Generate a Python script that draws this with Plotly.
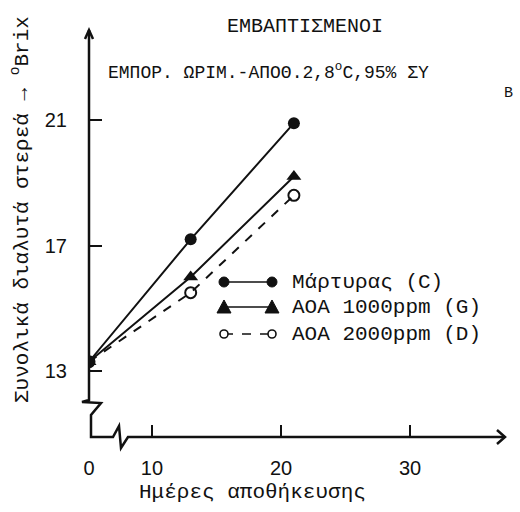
import plotly.graph_objects as go

# Storage days and total soluble solids (°Brix) per treatment
days = [0, 13, 21]
control_c = [13.3, 17.2, 20.9]
aoa_1000_g = [13.3, 16.0, 19.2]
aoa_2000_d = [13.3, 15.5, 18.6]

series_names = ["Μάρτυρας (C)", "ΑΟΑ 1000ppm (G)", "ΑΟΑ 2000ppm (D)"]
x_ticks = [10, 20, 30]
y_ticks = [13, 17, 21]

title_main = "ΕΜΒΑΠΤΙΣΜΕΝΟΙ"
title_sub = "ΕΜΠΟΡ. ΩΡΙΜ.-ΑΠΟΘ.2,8<sup>o</sup>C,95% ΣΥ"
title_sub_b = "Β"
x_title = "Ημέρες αποθήκευσης"
y_title = "Συνολικά διαλυτά στερεά → <sup>o</sup>Brix"

W, H = 520, 512
L, R, T, B = 89, 505, 30, 437          # plot area in pixels
X_RANGE = [5.12, 37.36]
Y_RANGE = [10.9, 23.87]

# Day 0 sits at the origin, left of the broken x axis
ORIGIN_X = X_RANGE[0]
def xpos(d):
    return ORIGIN_X if d == 0 else d
xs = [xpos(d) for d in days]

MONO = "Liberation Mono, Courier New, monospace"
SANS = "Liberation Sans, Arial, sans-serif"
INK = "#111111"


def fx(px):
    return (px - L) / (R - L)


def fy(py):
    return (B - py) / (B - T)


def path(points):
    return "M " + " L ".join(f"{fx(a):.5f},{fy(b):.5f}" for a, b in points)


fig = go.Figure()

fig.add_trace(go.Scatter(
    x=xs, y=aoa_2000_d, mode="lines+markers", name=series_names[2],
    line=dict(color=INK, width=2, dash="dash"),
    marker=dict(symbol="circle-open", size=11, color=INK, line=dict(width=2)),
))
fig.add_trace(go.Scatter(
    x=xs, y=aoa_1000_g, mode="lines+markers", name=series_names[1],
    line=dict(color=INK, width=2),
    marker=dict(symbol="triangle-up", size=13, color=INK),
))
fig.add_trace(go.Scatter(
    x=xs, y=control_c, mode="lines+markers", name=series_names[0],
    line=dict(color=INK, width=2),
    marker=dict(symbol="circle", size=12, color=INK),
))

shapes = []
# Axes with break marks and arrow heads
axis_pts = [(89, 30), (89, 400), (82, 402), (101, 403), (91, 415), (91, 437),
            (113, 437), (119, 426), (121, 448), (128, 437), (505, 437)]
shapes.append(dict(type="path", xref="paper", yref="paper", path=path(axis_pts),
                   line=dict(color=INK, width=2.5)))
shapes.append(dict(type="path", xref="paper", yref="paper",
                   path=path([(85, 39), (89, 30), (93, 39)]),
                   line=dict(color=INK, width=2.5)))
shapes.append(dict(type="path", xref="paper", yref="paper",
                   path=path([(497, 430), (505, 437), (497, 444)]),
                   line=dict(color=INK, width=2.5)))

# Hand-drawn style legend keys
key_rows = [282, 307, 334]
key_x0, key_x1 = 224, 272
styles = [("circle", "solid"), ("triangle", "solid"), ("open", "dash")]
annotations = []
for row, (kind, dash), name in zip(key_rows, styles, series_names):
    shapes.append(dict(type="line", xref="paper", yref="paper",
                       x0=fx(key_x0), x1=fx(key_x1), y0=fy(row), y1=fy(row),
                       line=dict(color=INK, width=1.6, dash="dash" if dash == "dash" else "solid")))
    for kx in (key_x0, key_x1):
        if kind == "circle":
            shapes.append(dict(type="circle", xref="paper", yref="paper",
                               xsizemode="pixel", ysizemode="pixel",
                               xanchor=fx(kx), yanchor=fy(row),
                               x0=-5, x1=5, y0=-5, y1=5,
                               fillcolor=INK, line=dict(color=INK, width=1)))
        elif kind == "triangle":
            shapes.append(dict(type="path", xref="paper", yref="paper",
                               path=path([(kx - 7, row + 6), (kx, row - 7), (kx + 7, row + 6)]) + " Z",
                               fillcolor=INK, line=dict(color=INK, width=1)))
        else:
            shapes.append(dict(type="circle", xref="paper", yref="paper",
                               xsizemode="pixel", ysizemode="pixel",
                               xanchor=fx(kx), yanchor=fy(row),
                               x0=-4, x1=4, y0=-4, y1=4,
                               fillcolor="white", line=dict(color=INK, width=1.6)))
    annotations.append(dict(xref="paper", yref="paper", x=fx(290), y=fy(row),
                            xanchor="left", yanchor="middle", showarrow=False,
                            text=name, font=dict(family=MONO, size=21, color=INK)))

annotations += [
    dict(xref="paper", yref="paper", x=fx(305), y=fy(27), xanchor="center", yanchor="middle",
         showarrow=False, text=title_main, font=dict(family=MONO, size=20, color=INK)),
    dict(xref="paper", yref="paper", x=fx(106), y=fy(72), xanchor="left", yanchor="middle",
         showarrow=False, text=title_sub, font=dict(family=MONO, size=18, color=INK)),
    dict(xref="paper", yref="paper", x=fx(508), y=fy(94), xanchor="center", yanchor="middle",
         showarrow=False, text=title_sub_b, font=dict(family=MONO, size=15, color=INK)),
    dict(xref="paper", yref="paper", x=fx(252), y=fy(492), xanchor="center", yanchor="middle",
         showarrow=False, text=x_title, font=dict(family=MONO, size=21, color=INK)),
    dict(xref="paper", yref="paper", x=fx(20), y=fy(210), xanchor="center", yanchor="middle",
         showarrow=False, textangle=-90, text=y_title, font=dict(family=MONO, size=21, color=INK)),
]

fig.update_layout(
    width=W, height=H,
    margin=dict(l=L, r=W - R, t=T, b=H - B),
    paper_bgcolor="white", plot_bgcolor="white",
    showlegend=False,
    shapes=shapes,
    annotations=annotations,
    xaxis=dict(range=X_RANGE, showgrid=False, zeroline=False, showline=False,
               tickmode="array", tickvals=[ORIGIN_X] + x_ticks,
               ticktext=["0"] + [str(v) for v in x_ticks],
               ticks="inside", ticklen=12, tickwidth=2, tickcolor=INK,
               ticklabelstandoff=17,
               tickfont=dict(family=SANS, size=20, color=INK)),
    yaxis=dict(range=Y_RANGE, showgrid=False, zeroline=False, showline=False,
               tickmode="array", tickvals=y_ticks, ticktext=[str(v) for v in y_ticks],
               ticks="inside", ticklen=13, tickwidth=2, tickcolor=INK,
               ticklabelstandoff=21,
               tickfont=dict(family=SANS, size=20, color=INK)),
)

fig.write_html("out.html")
